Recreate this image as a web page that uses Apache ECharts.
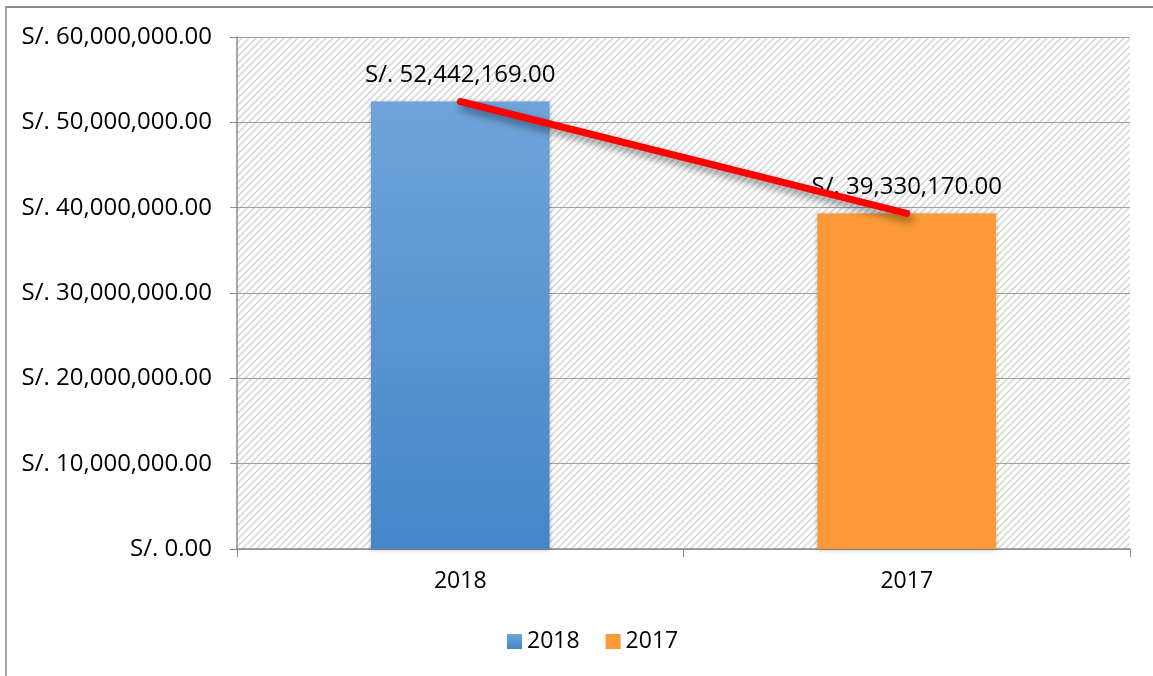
<!DOCTYPE html>
<html>
<head>
<meta charset="utf-8">
<script src="https://cdn.jsdelivr.net/npm/echarts@6/dist/echarts.min.js"></script>
<style>
  html, body { margin: 0; padding: 0; background: #fff; }
  #frame {
    position: absolute; left: 5px; top: 6px; width: 1160px; height: 680px;
    border-top: 2px solid #8c8c8c; border-left: 2px solid #a6a6a6;
  }
  #chart { position: absolute; left: 0; top: 0; width: 1153px; height: 676px; }
</style>
</head>
<body>
<div id="frame"></div>
<div id="chart"></div>
<script>
  const years = ['2018', '2017']
  const totals = [52442169, 39330170]
  const yTicks = [0, 10000000, 20000000, 30000000, 40000000, 50000000, 60000000]

  // hatch for the plot area
  function hatch() {
    const c = document.createElement('canvas')
    c.width = 7
    c.height = 7
    const g = c.getContext('2d')
    g.strokeStyle = '#d4d4d4'
    g.lineWidth = 1.5
    g.beginPath()
    g.moveTo(-2, 9); g.lineTo(9, -2)
    g.moveTo(-2, 2); g.lineTo(2, -2)
    g.moveTo(5, 9); g.lineTo(9, 5)
    g.stroke()
    return c
  }

  const money = v => 'S/. ' + v.toLocaleString('en-US', { minimumFractionDigits: 2, maximumFractionDigits: 2 })
  const font = '"Open Sans", "Noto Sans", sans-serif'

  const blue = new echarts.graphic.LinearGradient(0, 0, 0, 1, [
    { offset: 0, color: '#6fa4db' },
    { offset: 1, color: '#4487c7' },
  ])

  const chart = echarts.init(document.getElementById('chart'))
  chart.setOption({
    animation: false,
    grid: {
      left: 237, right: 23, top: 37, bottom: 127,
      show: true, borderWidth: 0,
      backgroundColor: { image: hatch(), repeat: 'repeat' },
    },
    legend: {
      bottom: 18, left: 502,
      data: years,
      icon: 'rect', itemWidth: 15, itemHeight: 15, itemGap: 26, itemTextGap: 8,
      textStyle: { fontFamily: font, fontSize: 23, color: '#000' },
    },
    xAxis: {
      type: 'category',
      data: years,
      axisLine: { lineStyle: { color: '#8c8c8c', width: 1.5 } },
      axisTick: { show: true, length: 8, lineStyle: { color: '#8c8c8c' } },
      axisLabel: { fontFamily: font, fontSize: 23, color: '#000', margin: 21 },
    },
    yAxis: {
      type: 'value',
      min: 0, max: yTicks[yTicks.length - 1], interval: 10000000,
      axisLine: { show: true, lineStyle: { color: '#8c8c8c', width: 1.5 } },
      axisTick: { show: true, length: 7, lineStyle: { color: '#8c8c8c' } },
      splitLine: { lineStyle: { color: '#a0a0a0', width: 1.2 } },
      axisLabel: { fontFamily: font, fontSize: 24, color: '#000', margin: 25, formatter: money },
    },
    series: [
      {
        name: '2018', type: 'bar', barWidth: '40%', barGap: '-100%',
        data: [totals[0], null],
        itemStyle: { color: blue, shadowColor: 'rgba(0,0,0,0.25)', shadowBlur: 4, shadowOffsetY: 1 },
        label: { show: true, position: 'top', distance: 14, fontFamily: font, fontSize: 24, color: '#000', formatter: p => money(p.value) },
      },
      {
        name: '2017', type: 'bar', barWidth: '40%', barGap: '-100%',
        data: [null, totals[1]],
        itemStyle: { color: '#fd9a38', shadowColor: 'rgba(0,0,0,0.25)', shadowBlur: 4, shadowOffsetY: 1 },
        label: { show: true, position: 'top', distance: 14, fontFamily: font, fontSize: 24, color: '#000', formatter: p => money(p.value) },
      },
      {
        name: 'trend', type: 'line', data: totals,
        symbol: 'none', z: 5,
        lineStyle: {
          color: '#ff0000', width: 7, cap: 'round',
          shadowColor: 'rgba(0,0,0,0.45)', shadowBlur: 8, shadowOffsetX: 3, shadowOffsetY: 5,
        },
      },
    ],
  })
</script>
</body>
</html>
